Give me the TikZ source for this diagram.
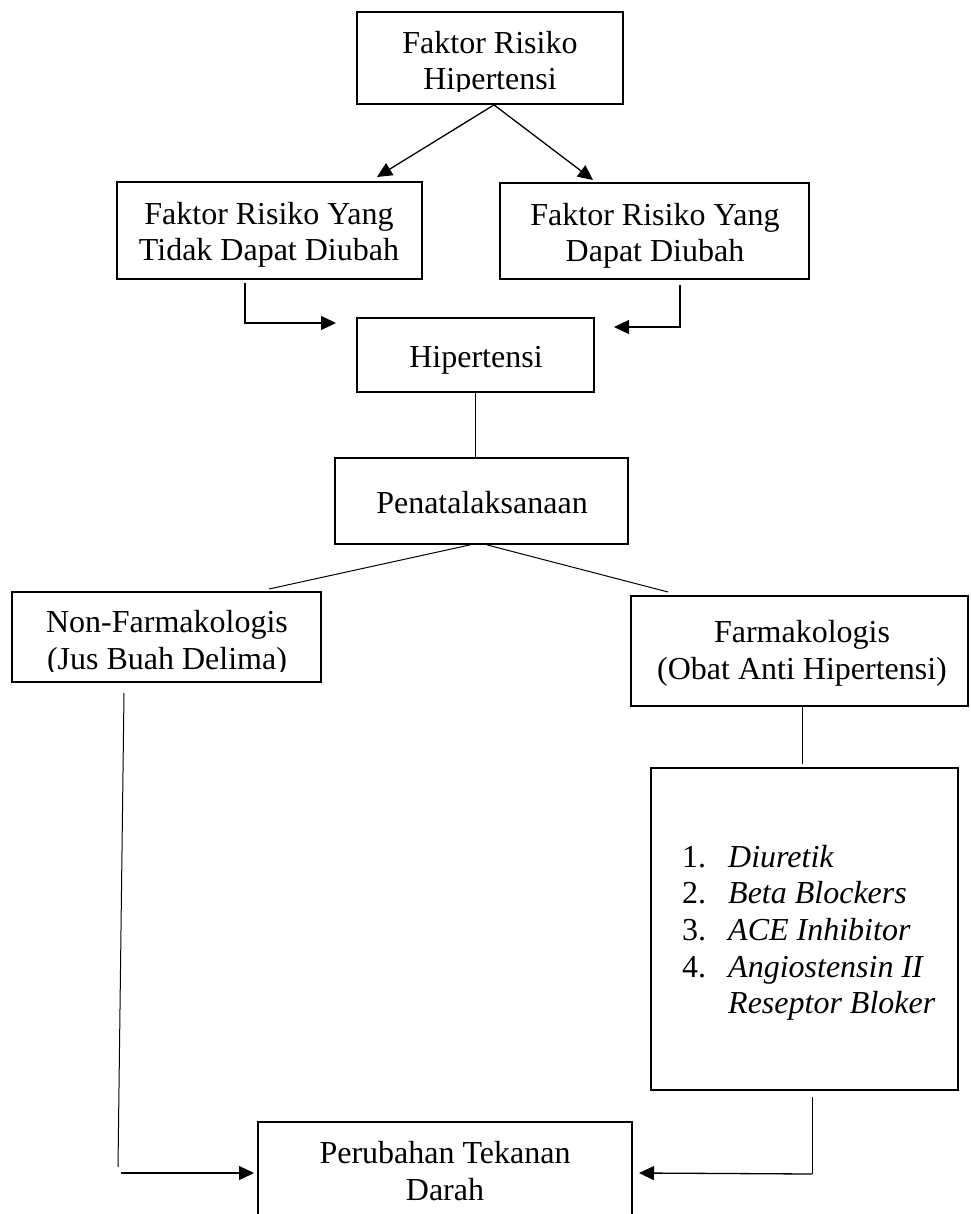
\documentclass[tikz,border=0pt]{standalone}
\usepackage{fontspec}
\setmainfont{Liberation Serif}
\usetikzlibrary{arrows.meta}
\tikzset{
  boxnode/.style={draw, line width=1.8pt, inner sep=0pt, rectangle},
  txt/.style={anchor=base, inner sep=0pt, font=\fontsize{32}{36.7}\selectfont},
  plain/.style={line width=1pt},
  arr/.style={line width=1.3pt, -{Triangle[length=15pt,width=14pt]}},
}
\newcommand\twolines[2]{\begin{tabular}[b]{@{}c@{}}#1\\#2\end{tabular}}
\begin{document}
\begin{tikzpicture}[x=1pt,y=-1pt]
\useasboundingbox (0,0) rectangle (970,1214);
% boxes
\node[boxnode, minimum width=266pt, minimum height=92pt] (top) at (490,58) {};
\node[boxnode, minimum width=305pt, minimum height=97pt] (lbox) at (269.5,230.5) {};
\node[boxnode, minimum width=309pt, minimum height=96pt] (rbox) at (654.5,231) {};
\node[boxnode, minimum width=237pt, minimum height=74pt] (hip) at (475.5,355) {};
\node[boxnode, minimum width=293pt, minimum height=86pt] (pen) at (481.5,501) {};
\node[boxnode, minimum width=309pt, minimum height=90pt] (nf) at (166.5,637) {};
\node[boxnode, minimum width=337pt, minimum height=110pt] (fa) at (799.5,651) {};
\node[boxnode, minimum width=307pt, minimum height=322pt] (list) at (804.5,929) {};
\node[boxnode, minimum width=374pt, minimum height=128pt] (bot) at (445,1186) {};
% texts
\begin{scope}
  \clip (357,12) rectangle (623,92);
  \node[txt] (toptxt) at (490,90) {\twolines{Faktor Risiko}{Hipertensi}};
\end{scope}
\node[txt] (ltxt) at (269,261) {\twolines{Faktor Risiko Yang}{Tidak Dapat Diubah}};
\node[txt] (rtxt) at (655,262) {\twolines{Faktor Risiko Yang}{Dapat Diubah}};
\node[txt] (hiptxt) at (476,367) {Hipertensi};
\node[txt] (pentxt) at (482,513) {Penatalaksanaan};
\begin{scope}
  \clip (12,592) rectangle (321,671);
  \node[txt] (nftxt) at (167,669) {\twolines{Non-Farmakologis}{(Jus Buah Delima)}};
\end{scope}
\node[txt] (fatxt) at (802,679) {\twolines{Farmakologis}{(Obat Anti Hipertensi)}};
\node[txt, anchor=base west] (listtxt) at (682,867) {\begin{tabular}[t]{@{}l@{\hspace{22pt}}l@{}}
1. & \textit{Diuretik}\\
2. & \textit{Beta Blockers}\\
3. & \textit{ACE Inhibitor}\\
4. & \textit{Angiostensin II}\\
 & \textit{Reseptor Bloker}
\end{tabular}};
\node[txt] (bottxt) at (445,1200) {\twolines{Perubahan Tekanan}{Darah}};
% free ends
\coordinate (a1) at (377,177);
\coordinate (a2) at (593,180);
\coordinate (e1) at (245,283);
\coordinate (e1t) at (336,323);
\coordinate (e2) at (680,285);
\coordinate (e2t) at (614,327);
\coordinate (c1) at (269,589);
\coordinate (c2) at (668,592);
\coordinate (n1) at (124,693);
\coordinate (n2) at (118,1167);
\coordinate (n3) at (121,1173);
\coordinate (n4) at (254,1173);
\coordinate (f1) at (802,764);
\coordinate (l1) at (812,1097);
\coordinate (l2) at (812,1174);
\coordinate (l3) at (639,1173);
% connectors
\draw[arr] ([xshift=4pt]top.south) -- (a1);
\draw[arr] ([xshift=4pt]top.south) -- (a2);
\draw[arr] (e1) |- (e1t);
\draw[arr] (e2) |- (e2t);
\draw[plain] (hip.south) -- (hip.south |- pen.north);
\draw[plain] ([xshift=-11.5pt]pen.south) -- (c1);
\draw[plain] ([xshift=5.5pt]pen.south) -- (c2);
\draw[plain] (n1) -- (n2);
\draw[arr] (n3) -- (n4);
\draw[plain] ([xshift=2.5pt]fa.south) -- (f1);
\draw[plain] (l1) -- (l2);
\draw[arr] (l2) -- (l3);
\end{tikzpicture}
\end{document}
